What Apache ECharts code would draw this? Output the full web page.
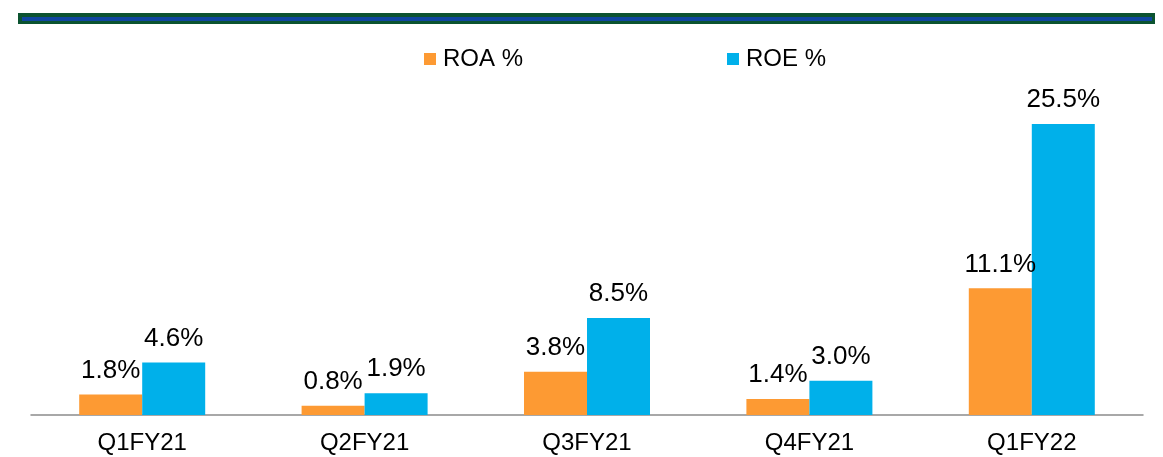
<!DOCTYPE html>
<html>
<head>
<meta charset="utf-8">
<style>
  html, body { margin: 0; padding: 0; background: #ffffff; }
  #chart { width: 1163px; height: 457px; }
</style>
<script src="https://cdn.jsdelivr.net/npm/echarts@6/dist/echarts.min.js"></script>
</head>
<body>
<div id="chart"></div>
<script>
// Quarterly return ratios
const quarters = ['Q1FY21', 'Q2FY21', 'Q3FY21', 'Q4FY21', 'Q1FY22'];
const roa = [1.8, 0.8, 3.8, 1.4, 11.1];
const roe = [4.6, 1.9, 8.5, 3.0, 25.5];
const seriesNames = ['ROA %', 'ROE %'];

const FONT = 'Liberation Sans, Arial, sans-serif';

const chart = echarts.init(document.getElementById('chart'), null, { renderer: 'canvas' });

const labelStyle = {
  show: true,
  position: 'top',
  distance: 11,
  color: '#000000',
  fontFamily: FONT,
  fontSize: 26,
  formatter: p => p.value.toFixed(1) + '%'
};

chart.setOption({
  animation: false,
  backgroundColor: '#ffffff',
  graphic: [
    // header band: green frame with blue core
    { type: 'rect', shape: { x: 18, y: 13, width: 1137, height: 11 }, style: { fill: '#0b5330' }, silent: true },
    { type: 'rect', shape: { x: 22, y: 17, width: 1130, height: 4 }, style: { fill: '#0f46a0' }, silent: true }
  ],
  legend: {
    data: seriesNames,
    top: 42,
    left: 419,
    itemWidth: 12,
    itemHeight: 12,
    itemGap: 204,
    icon: 'rect',
    textStyle: { color: '#000000', fontFamily: FONT, fontSize: 24, padding: [0, 0, 0, 2] }
  },
  grid: { left: 31, right: 20, top: 72.7, bottom: 42, containLabel: false },
  xAxis: {
    type: 'category',
    data: quarters,
    axisLine: { show: true, lineStyle: { color: '#8c8c8c', width: 1.5 } },
    axisTick: { show: false },
    axisLabel: { color: '#000000', fontFamily: FONT, fontSize: 24, margin: 16 }
  },
  yAxis: {
    type: 'value',
    min: 0,
    max: 30,
    show: false,
    splitLine: { show: false }
  },
  series: [
    {
      name: seriesNames[0],
      type: 'bar',
      data: roa,
      barWidth: 63,
      barGap: '0%',
      itemStyle: { color: '#fd9a33' },
      label: labelStyle
    },
    {
      name: seriesNames[1],
      type: 'bar',
      data: roe,
      barWidth: 63,
      barGap: '0%',
      itemStyle: { color: '#00b0ea' },
      label: labelStyle
    }
  ]
});
</script>
</body>
</html>
